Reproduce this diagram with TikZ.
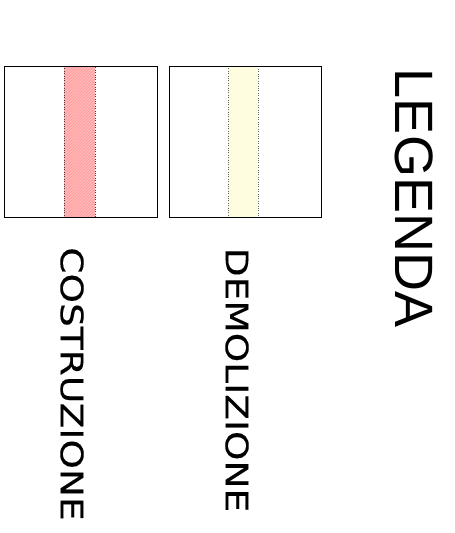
\documentclass[tikz,border=0pt]{standalone}
\usepackage{fontspec}
\newfontfamily\labelfont[FakeBold=0.2]{DejaVu Sans}
\newfontfamily\titlefont{Liberation Sans}
\usetikzlibrary{patterns}
\begin{document}
\begin{tikzpicture}[x=1pt,y=-1pt]
	    \useasboundingbox (0,0) rectangle (455,533);
	    % costruzione
	    \fill[red!28] (64,66) rectangle (95,217);
	    \fill[pattern=north east lines,pattern color=red!40] (64,66) rectangle (95,217);
	    \draw[dotted,black!75] (64,66) rectangle (95,217);
	    \draw[line width=0.8pt] (4,66) rectangle (157,217);
	    % demolizione
	    \fill[yellow!12] (228,66) rectangle (258,217);
	    \draw[dotted,black!60] (228,66) rectangle (258,217);
	    \draw[line width=0.8pt] (169,66) rectangle (321,217);
	    % testi
	    \node[rotate=-90,xscale=1.21,inner sep=0] (C) at (72,384) {\labelfont\fontsize{31}{31}\selectfont COSTRUZIONE};
	    \node[rotate=-90,xscale=1.21,inner sep=0] (D) at (237,380) {\labelfont\fontsize{31}{31}\selectfont DEMOLIZIONE};
	    \node[rotate=-90,inner sep=0] (L) at (414,198) {\titlefont\fontsize{54}{54}\selectfont LEGENDA};
	\end{tikzpicture}
\end{document}
